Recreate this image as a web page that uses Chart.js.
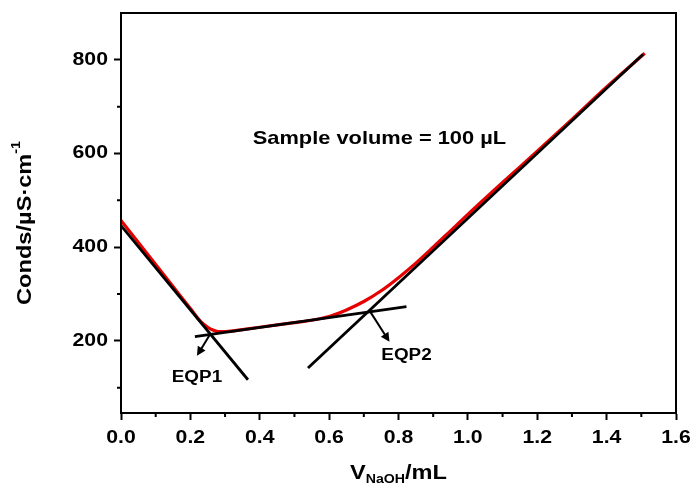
<!DOCTYPE html>
<html>
<head>
<meta charset="utf-8">
<script src="https://cdn.jsdelivr.net/npm/chart.js@4.4.0/dist/chart.umd.min.js"></script>
<style>
  html, body { margin: 0; padding: 0; background: #fff; }
  #wrap { width: 694px; height: 495px; }
</style>
</head>
<body>
<div id="wrap"><canvas id="chart" width="694" height="495"></canvas></div>
<script>
// Titration curve (V NaOH in mL, conductivity in uS/cm)
const volume = [0, 0.05, 0.1, 0.15, 0.2, 0.23, 0.25, 0.265, 0.28, 0.3, 0.33, 0.36, 0.4, 0.45, 0.5, 0.55,
    0.6, 0.65, 0.7, 0.75, 0.8, 0.85, 0.9, 0.95, 1.0, 1.1, 1.2, 1.3, 1.4, 1.51];
const conds = [457, 410, 363, 316, 269, 241, 229, 223, 220, 220, 222, 225, 229, 234, 239, 244,
    252, 266, 284, 307, 335, 366, 400, 435, 470, 538, 605, 673, 742, 814];

// Tangent lines (two end points each)
const fit1X = [0, 0.366];
const fit1Y = [446, 117];
const fit2X = [0.213, 0.823];
const fit2Y = [209, 273];
const fit3X = [0.539, 1.505];
const fit3Y = [142, 812];

// Equivalence points and where their arrows point
const eqpNames = ['EQP1', 'EQP2'];
const eqpX = [0.256, 0.717];
const eqpY = [213, 264];
const arrowX = [0.219, 0.774];
const arrowY = [168, 198];

// Axis ticks
const xTicks = [0, 0.2, 0.4, 0.6, 0.8, 1.0, 1.2, 1.4, 1.6];
const xMinor = [0.1, 0.3, 0.5, 0.7, 0.9, 1.1, 1.3, 1.5];
const yTicks = [200, 400, 600, 800];
const yMinor = [100, 300, 500, 700];

const FONT = '"Liberation Sans", Arial, sans-serif';
const STRETCH = 1.18;

const toPoints = (xs, ys) => xs.map((x, i) => ({ x: x, y: ys[i] }));

// draws text stretched a bit wider, like the original figure
function wideText(ctx, text, x, y, size, align) {
    ctx.save();
    ctx.font = 'bold ' + size + 'px ' + FONT;
    ctx.translate(x, y);
    ctx.scale(STRETCH, 1);
    ctx.textAlign = align || 'center';
    ctx.textBaseline = 'middle';
    ctx.fillText(text, 0, 0);
    ctx.restore();
}

const decor = {
    id: 'decor',
    afterDatasetsDraw(chart) {
        const ctx = chart.ctx;
        const xs = chart.scales.x, ys = chart.scales.y;
        const a = chart.chartArea;

        ctx.save();
        ctx.strokeStyle = '#000';
        ctx.fillStyle = '#000';

        // frame
        ctx.lineWidth = 2;
        ctx.strokeRect(a.left, a.top, a.right - a.left, a.bottom - a.top);

        // minor ticks
        ctx.beginPath();
        xMinor.forEach(v => {
            const px = xs.getPixelForValue(v);
            ctx.moveTo(px, a.bottom);
            ctx.lineTo(px, a.bottom + 4);
        });
        yMinor.forEach(v => {
            const py = ys.getPixelForValue(v);
            ctx.moveTo(a.left, py);
            ctx.lineTo(a.left - 4, py);
        });
        ctx.stroke();

        // arrows from the equivalence points
        eqpX.forEach((v, i) => {
            const x0 = xs.getPixelForValue(v), y0 = ys.getPixelForValue(eqpY[i]);
            const x1 = xs.getPixelForValue(arrowX[i]), y1 = ys.getPixelForValue(arrowY[i]);
            const ang = Math.atan2(y1 - y0, x1 - x0);
            const c = Math.cos(ang), s = Math.sin(ang);
            ctx.lineWidth = 2;
            ctx.beginPath();
            ctx.moveTo(x0, y0);
            ctx.lineTo(x1 - 6 * c, y1 - 6 * s);
            ctx.stroke();
            ctx.beginPath();
            ctx.moveTo(x1, y1);
            ctx.lineTo(x1 - 9 * c + 4.5 * s, y1 - 9 * s - 4.5 * c);
            ctx.lineTo(x1 - 9 * c - 4.5 * s, y1 - 9 * s + 4.5 * c);
            ctx.closePath();
            ctx.fill();
        });
        ctx.restore();
    },
    afterDraw(chart) {
        const ctx = chart.ctx;
        const xs = chart.scales.x, ys = chart.scales.y;
        const a = chart.chartArea;
        ctx.save();
        ctx.fillStyle = '#000';

        // tick labels
        xTicks.forEach(v => {
            wideText(ctx, v.toFixed(1), xs.getPixelForValue(v), a.bottom + 25, 18);
        });
        yTicks.forEach(v => {
            wideText(ctx, String(v), a.left - 13, ys.getPixelForValue(v), 18, 'right');
        });

        // EQP labels
        wideText(ctx, eqpNames[0], xs.getPixelForValue(arrowX[0]), ys.getPixelForValue(arrowY[0]) + 22, 16);
        wideText(ctx, eqpNames[1], xs.getPixelForValue(arrowX[1]) + 17, ys.getPixelForValue(arrowY[1]) + 14, 16);

        // sample note
        wideText(ctx, 'Sample volume = 100 \u00b5L', xs.getPixelForValue(0.745), ys.getPixelForValue(632), 18.5);

        // x axis title: V with NaOH subscript, then /mL
        const cx = (a.left + a.right) / 2, ty = 473;
        ctx.font = 'bold 20px ' + FONT;
        const wV = ctx.measureText('V').width, wU = ctx.measureText('/mL').width;
        ctx.font = 'bold 12px ' + FONT;
        const wS = ctx.measureText('NaOH').width;
        const total = (wV + wS + wU) * STRETCH;
        let x = cx - total / 2;
        wideText(ctx, 'V', x, ty, 20, 'left');
        x += wV * STRETCH;
        wideText(ctx, 'NaOH', x, ty + 7, 12, 'left');
        x += wS * STRETCH;
        wideText(ctx, '/mL', x, ty, 20, 'left');

        // y axis title, rotated, with superscript -1
        ctx.save();
        ctx.translate(25, 223);
        ctx.rotate(-Math.PI / 2);
        ctx.font = 'bold 20px ' + FONT;
        const wMain = ctx.measureText('Conds/\u00b5S\u00b7cm').width;
        ctx.font = 'bold 12px ' + FONT;
        const wSup = ctx.measureText('-1').width;
        const tot = (wMain + wSup) * STRETCH;
        wideText(ctx, 'Conds/\u00b5S\u00b7cm', -tot / 2, 0, 20, 'left');
        wideText(ctx, '-1', -tot / 2 + wMain * STRETCH, -8, 12, 'left');
        ctx.restore();

        ctx.restore();
    }
};

new Chart(document.getElementById('chart'), {
    type: 'line',
    data: {
        datasets: [
            {
                data: toPoints(fit1X, fit1Y),
                borderColor: '#000', borderWidth: 2.8, pointRadius: 0, order: 1
            },
            {
                data: toPoints(fit2X, fit2Y),
                borderColor: '#000', borderWidth: 2.8, pointRadius: 0, order: 1
            },
            {
                data: toPoints(fit3X, fit3Y),
                borderColor: '#000', borderWidth: 2.8, pointRadius: 0, order: 1
            },
            {
                data: toPoints(volume, conds),
                borderColor: '#e60000', borderWidth: 3.2, pointRadius: 0,
                cubicInterpolationMode: 'monotone', order: 2
            }
        ]
    },
    options: {
        responsive: false,
        animation: false,
        devicePixelRatio: 1,
        layout: { padding: { top: 13, right: 18, left: 0, bottom: 0 } },
        plugins: { legend: { display: false }, tooltip: { enabled: false } },
        scales: {
            x: {
                type: 'linear',
                min: 0, max: 1.6,
                afterBuildTicks: s => { s.ticks = xTicks.map(v => ({ value: v })); },
                afterFit: s => { s.height = 82; },
                ticks: { display: false },
                grid: { drawOnChartArea: false, tickLength: 7, tickWidth: 2, tickColor: '#000' },
                border: { display: true, color: '#000', width: 2 }
            },
            y: {
                min: 46, max: 900,
                afterBuildTicks: s => { s.ticks = yTicks.map(v => ({ value: v })); },
                afterFit: s => { s.width = 121; },
                ticks: { display: false },
                grid: { drawOnChartArea: false, tickLength: 7, tickWidth: 2, tickColor: '#000' },
                border: { display: true, color: '#000', width: 2 }
            }
        }
    },
    plugins: [decor]
});
</script>
</body>
</html>
